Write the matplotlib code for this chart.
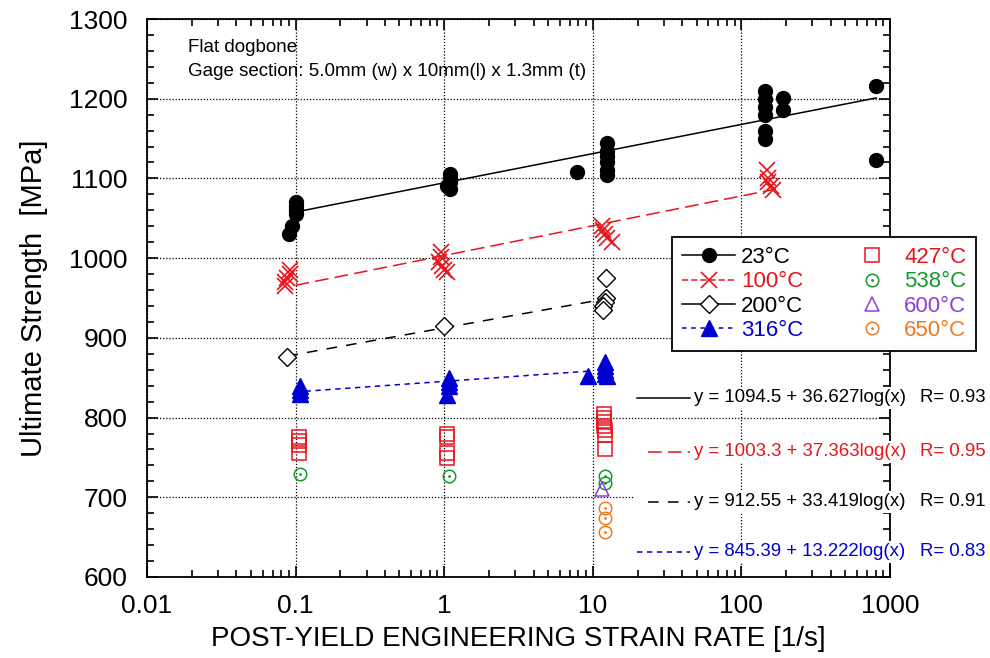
import numpy as np
import matplotlib
matplotlib.use('Agg')
import matplotlib.pyplot as plt
from matplotlib.lines import Line2D
from matplotlib.patches import Rectangle
from matplotlib.ticker import LogLocator, FuncFormatter, MultipleLocator

plt.rcParams['font.family'] = ['Liberation Sans', 'DejaVu Sans']

# ---- data (strain rate [1/s], strength [MPa]) ----
x23 = [0.1, 0.1, 0.1, 0.1, 0.095, 0.09,
       1.1, 1.1, 1.1, 1.05, 1.1,
       7.8, 12.5, 12.5, 12.5, 12.5, 12.5, 12.5,
       144, 144, 144, 144, 144, 144, 191, 191,
       807, 807]
y23 = [1070, 1065, 1060, 1055, 1040, 1030,
       1105, 1100, 1095, 1090, 1087,
       1108, 1145, 1135, 1128, 1120, 1110, 1104,
       1210, 1200, 1190, 1180, 1160, 1150, 1201, 1186,
       1216, 1123]

x100 = [0.092, 0.092, 0.088, 0.085, 0.085,
        0.95, 0.95, 0.92, 0.97, 1.0, 1.05,
        11.5, 11.8, 12.0, 12.5, 13.5,
        148, 150, 152, 158, 162]
y100 = [985, 980, 975, 970, 965,
        1008, 1002, 995, 990, 985, 982,
        1040, 1035, 1030, 1025, 1020,
        1110, 1100, 1095, 1090, 1085]

x200 = [0.088, 1.0, 12.2, 12.2, 12.0, 11.8, 11.8]
y200 = [876, 915, 975, 950, 945, 940, 935]

x316 = [0.107, 0.107, 0.107, 1.07, 1.07, 1.07, 1.05, 9.3, 12.1, 12.1, 12.1, 12.1, 12.5]
y316 = [840, 835, 830, 850, 845, 840, 828, 852, 870, 865, 860, 855, 852]

x427 = [0.106, 0.106, 0.106, 0.106, 1.05, 1.05, 1.05, 1.05,
        11.9, 11.9, 11.9, 11.9, 12.1, 12.1, 12.1]
y427 = [775, 770, 765, 755, 780, 775, 755, 749,
        805, 800, 795, 790, 785, 778, 760]

x538 = [0.107, 1.07, 12.1, 12.0]
y538 = [729, 727, 727, 718]

x600 = [11.5]
y600 = [710]

x650 = [12.1, 12.1, 12.1]
y650 = [686, 674, 657]

# fits  y = a + b*log10(x)
fit_a = [1094.5, 1003.3, 912.55, 845.39]
fit_b = [36.627, 37.363, 33.419, 13.222]
fit_r = [0.93, 0.95, 0.91, 0.83]
fit_lo = [0.1, 0.1, 0.088, 0.1]
fit_hi = [807, 160, 10, 10]

RED = '#e8141c'
BLUE = '#0000d0'
GREEN = '#129a2a'
PURPLE = '#8c3ddb'
ORANGE = '#f07a20'

W, H = 990, 658
fig = plt.figure(figsize=(9.9, 6.58), dpi=100)


def fx(px):
    return px / W


def fy(py):
    return 1 - py / H


ax = fig.add_axes([fx(147), fy(577), fx(890) - fx(147), fy(19) - fy(577)])
ax.set_xscale('log')
ax.set_xlim(0.01, 1000)
ax.set_ylim(600, 1300)

fit_styles = [dict(color='black', ls='-', lw=1.1),
              dict(color=RED, ls=(0, (9, 4)), lw=1.1),
              dict(color='black', ls=(0, (7, 6)), lw=1.1),
              dict(color=BLUE, ls=(0, (3.5, 3)), lw=1.1)]
for a, b, lo, hi, st in zip(fit_a, fit_b, fit_lo, fit_hi, fit_styles):
    xx = np.logspace(np.log10(lo), np.log10(hi), 50)
    ax.plot(xx, a + b * np.log10(xx), zorder=2, **st)

ax.plot(x23, y23, 'o', color='black', ms=10, ls='none', zorder=3)
ax.plot(x100, y100, 'x', color=RED, ms=11, mew=1.2, ls='none', zorder=3)
ax.plot(x200, y200, 'D', mfc='white', mec='black', ms=9, mew=1.0, ls='none', zorder=3)
ax.plot(x316, y316, '^', color=BLUE, ms=11, ls='none', zorder=3)
ax.plot(x427, y427, 's', mfc='none', mec=RED, ms=10, mew=1.1, ls='none', zorder=3)
ax.plot(x538, y538, 'o', mfc='none', mec=GREEN, ms=9, mew=1.1, ls='none', zorder=3)
ax.plot(x538, y538, '.', color=GREEN, ms=2, ls='none', zorder=3)
ax.plot(x600, y600, '^', mfc='none', mec=PURPLE, ms=10, mew=1.1, ls='none', zorder=3)
ax.plot(x650, y650, 'o', mfc='none', mec=ORANGE, ms=9, mew=1.1, ls='none', zorder=3)
ax.plot(x650, y650, '.', color=ORANGE, ms=2, ls='none', zorder=3)

# axes cosmetics
ax.xaxis.set_major_locator(LogLocator(base=10, numticks=10))
ax.xaxis.set_minor_locator(LogLocator(base=10, subs=np.arange(2, 10), numticks=10))
ax.xaxis.set_major_formatter(FuncFormatter(lambda v, p: '%g' % v))
ax.yaxis.set_major_locator(MultipleLocator(100))
ax.yaxis.set_minor_locator(MultipleLocator(20))
ax.tick_params(which='both', direction='in', top=True, right=True, width=1.2)
ax.tick_params(which='major', length=8, labelsize=19)
ax.tick_params(axis='y', which='major', pad=14)
ax.tick_params(axis='x', which='major', pad=12)
ax.tick_params(which='minor', length=5)
for s in ax.spines.values():
    s.set_linewidth(1.3)
ax.grid(True, which='major', color='black', ls=(0, (1, 1.5)), lw=0.9)
ax.set_axisbelow(True)

ax.set_xlabel('POST-YIELD ENGINEERING STRAIN RATE [1/s]', fontsize=20, labelpad=6)
ax.set_ylabel('Ultimate Strength  [MPa]', fontsize=21, labelpad=15)

fig.text(fx(188), fy(48), 'Flat dogbone', fontsize=13.5, va='center')
fig.text(fx(188), fy(72), 'Gage section: 5.0mm (w) x 10mm(l) x 1.3mm (t)',
         fontsize=13.5, va='center')

# legend
h23 = Line2D([], [], color='black', marker='o', ms=10, lw=1.1)
h100 = Line2D([], [], color=RED, marker='x', ms=11, mew=1.2, ls=(0, (4, 2)), lw=1.1)
h200 = Line2D([], [], color='black', marker='D', mfc='white', ms=9, lw=1.1)
h316 = Line2D([], [], color=BLUE, marker='^', ms=11, ls=(0, (3, 3)), lw=1.1)
h427 = Line2D([], [], color=RED, marker='s', mfc='none', ms=10, mew=1.1, ls='none')
h538 = (Line2D([], [], color=GREEN, marker='o', mfc='none', ms=9, mew=1.1, ls='none'),
        Line2D([], [], color=GREEN, marker='.', ms=2, ls='none'))
h600 = Line2D([], [], color=PURPLE, marker='^', mfc='none', ms=10, mew=1.1, ls='none')
h650 = (Line2D([], [], color=ORANGE, marker='o', mfc='none', ms=9, mew=1.1, ls='none'),
        Line2D([], [], color=ORANGE, marker='.', ms=2, ls='none'))
handles = [h23, h100, h200, h316, h427, h538, h600, h650]
labels = ['23°C', '100°C', '200°C', '316°C', '427°C', '538°C', '600°C', '650°C']
label_colors = ['black', RED, 'black', BLUE, RED, GREEN, PURPLE, ORANGE]
leg = fig.legend(handles, labels, loc='upper left', bbox_to_anchor=(fx(672), fy(237)),
                 borderaxespad=0, ncol=2, fontsize=16, frameon=True, fancybox=False,
                 framealpha=1, edgecolor='black', handlelength=2.4, handletextpad=0.25,
                 columnspacing=1.9, labelspacing=0.15, borderpad=0.45)
leg.get_frame().set_linewidth(1.3)
for t, c in zip(leg.get_texts(), label_colors):
    t.set_color(c)

# fit equations
eq_rows = [398, 452, 502, 552]
eq_colors = ['black', RED, 'black', BLUE]
eq_x0 = [637, 648, 648, 637]
for a, b, r, py, c, x0, st in zip(fit_a, fit_b, fit_r, eq_rows, eq_colors, eq_x0, fit_styles):
    fig.add_artist(Rectangle((fx(634), fy(py + 11)), fx(990) - fx(634), fy(py - 11) - fy(py + 11),
                             transform=fig.transFigure, facecolor='white', edgecolor='none'))
    fig.add_artist(Line2D([fx(x0), fx(690)], [fy(py), fy(py)], transform=fig.transFigure,
                          color=st['color'], ls=st['ls'], lw=1.1))
    fig.text(fx(694), fy(py), 'y = %g + %glog(x)' % (a, b), color=c, fontsize=13.4, va='center')
    fig.text(fx(920), fy(py), 'R= %.2f' % r, color=c, fontsize=13.4, va='center')

fig.savefig('out.png', dpi=100)
